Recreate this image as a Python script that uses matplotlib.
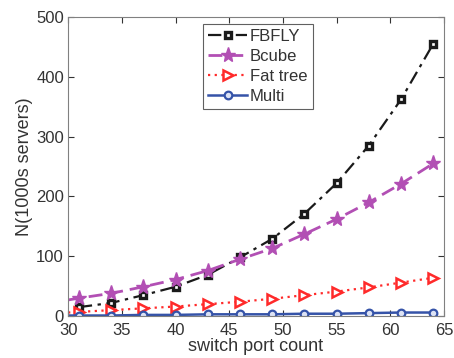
import numpy as np
import matplotlib
matplotlib.use("Agg")
import matplotlib.pyplot as plt

plt.rcParams['font.family'] = ['Liberation Sans', 'DejaVu Sans']

# switch port counts where markers sit
ports = [31, 34, 37, 40, 43, 46, 49, 52, 55, 58, 61, 64]
# lines for some series start at the left edge (x=30)
ports_ext = [30] + ports

fbfly = [15, 22, 35, 49, 69, 98, 129, 171, 222, 285, 362, 455]
bcube = [27, 30, 38, 49, 61, 76, 95, 113, 137, 162, 190, 221, 255]
fattree = [6, 7, 10, 13, 16, 20, 24, 29, 35, 41, 48, 56, 64]
multi = [1, 1, 1, 2, 2, 3, 3, 3, 4, 4, 5, 6, 6]

xticks = [30, 35, 40, 45, 50, 55, 60, 65]
yticks = [0, 100, 200, 300, 400, 500]

fig = plt.figure(figsize=(4.54, 3.58), dpi=100)
ax = fig.add_axes([0.150, 0.117, 0.828, 0.836])

ax.plot(ports, fbfly, color='#1a1a1a', ls=(0, (6, 2.5, 1.5, 2.5)), lw=1.6,
        marker='s', ms=5, mfc='white', mec='#1a1a1a', mew=2.4, label='FBFLY')
ax.plot(ports_ext, bcube, color='#b24fb4', ls=(0, (5, 2.5)), lw=2.0,
        marker='*', ms=11, mfc='#b24fb4', mec='#b24fb4', markevery=range(1, 13),
        label='Bcube')
ax.plot(ports_ext, fattree, color='#ff2a2a', ls=(0, (1, 2)), lw=1.6,
        marker='>', ms=6.5, mfc='white', mec='#ff2a2a', mew=1.8, markevery=range(1, 13),
        label='Fat tree')
ax.plot(ports_ext, multi, color='#3553a8', ls='-', lw=1.8,
        marker='o', ms=5.5, mfc='#dde3f5', mec='#3553a8', mew=1.6, markevery=range(1, 13),
        label='Multi')

ax.set_xlim(30, 65)
ax.set_ylim(0, 500)
ax.set_xticks(xticks)
ax.set_yticks(yticks)
ax.tick_params(direction='in', top=True, right=True, labelsize=12,
               colors='#333333', length=4, pad=3)
ax.tick_params(axis='x', pad=5)
for s in ax.spines.values():
    s.set_color('#808080')
    s.set_linewidth(0.8)

ax.set_xlabel('switch port count', fontsize=13, color='#333333', labelpad=0)
ax.set_ylabel('N(1000s servers)', fontsize=13, color='#333333', labelpad=2)

leg = ax.legend(loc='upper left', bbox_to_anchor=(0.36, 0.977), borderaxespad=0,
                fontsize=12, fancybox=False, edgecolor='#606060',
                handlelength=2.3, handletextpad=0.2, labelspacing=0.3,
                borderpad=0.3, framealpha=1)
leg.get_frame().set_linewidth(0.8)
for t in leg.get_texts():
    t.set_color('#333333')

fig.savefig('out.png', dpi=100)
